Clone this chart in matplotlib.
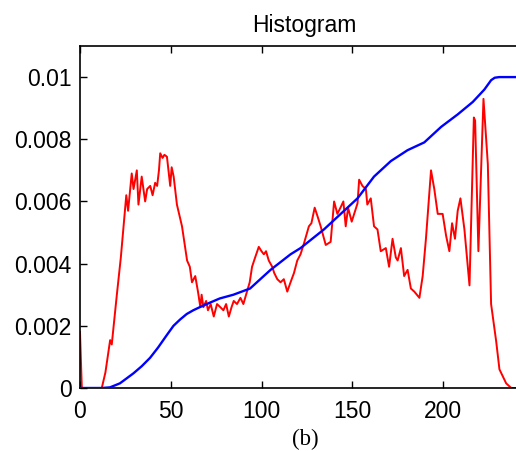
import matplotlib
matplotlib.use("Agg")
import matplotlib.pyplot as plt
from matplotlib.ticker import FuncFormatter

# red histogram
hist_x = [0, 1, 12, 14, 16.6, 17.5, 20.3, 22.5, 24.9, 25.5, 26.5, 28.5, 29.5, 31.3, 32.2,
          34, 35.9, 37, 38.7, 40, 41.4, 42.5, 43.5, 44.2, 45.5, 46.5, 47.9, 49.7, 50.5,
          51.6, 53.4, 56.2, 59, 60.5, 61.7, 63.5, 65, 66.3, 67, 68, 69.5, 70.5, 72, 73.7,
          75.5, 77.3, 79, 80.5, 82, 83.5, 84.7, 86.5, 88.4, 90, 92, 93.5, 94.8, 96.5,
          98.5, 100, 101.3, 102.5, 104, 105.9, 107, 108.7, 110.5, 112.3, 114.2, 116,
          117.9, 119.7, 121.5, 123.4, 126.1, 127.5, 129.3, 131, 132.6, 135.4, 138.1,
          140, 141.8, 143.5, 145.1, 146.4, 147.7, 149.7, 152.9, 153.8, 155.6, 157.5,
          158.3, 160.2, 162, 163.9, 165.7, 168.5, 170.3, 172.2, 174, 175, 176.8, 178.6,
          180.5, 182.3, 184.2, 187, 188.8, 190.6, 193.4, 195.2, 197.1, 199.8, 201.7,
          203.5, 205, 206.6, 208.1, 209.6, 211.8, 214.6, 217, 217.7, 219.5, 222.3,
          224.7, 226.5, 229.3, 231.1, 234.8, 237.6, 264]
hist_y = [0.0018, 0, 0, 0.0005, 0.00154, 0.0014, 0.003, 0.0042, 0.0058, 0.0062, 0.0057,
          0.0069, 0.0064, 0.0070, 0.0059, 0.0068, 0.006, 0.0064, 0.0065, 0.0062, 0.0066,
          0.0065, 0.007, 0.00755, 0.0074, 0.0075, 0.00744, 0.0065, 0.0071, 0.0068,
          0.0059, 0.0052, 0.0041, 0.0039, 0.0034, 0.0036, 0.0031, 0.0026, 0.003, 0.0026,
          0.0028, 0.0025, 0.0027, 0.0023, 0.0027, 0.0026, 0.0025, 0.0027, 0.0023,
          0.0026, 0.0028, 0.0027, 0.0029, 0.0027, 0.0031, 0.0034, 0.0039, 0.0042,
          0.00454, 0.0044, 0.0043, 0.0044, 0.0041, 0.0039, 0.0037, 0.0035, 0.0034,
          0.0035, 0.0031, 0.0034, 0.0037, 0.0041, 0.0043, 0.00465, 0.0052, 0.0053,
          0.0058, 0.0055, 0.0052, 0.0046, 0.0047, 0.006, 0.0056, 0.0058, 0.006, 0.0052,
          0.0058, 0.00535, 0.00594, 0.0067, 0.0065, 0.0064, 0.0059, 0.0061, 0.0052,
          0.0051, 0.0044, 0.0045, 0.0039, 0.0048, 0.0042, 0.0041, 0.0045, 0.0036,
          0.0038, 0.0032, 0.0031, 0.0029, 0.0036, 0.0048, 0.0070, 0.0064, 0.0056,
          0.0056, 0.0049, 0.0044, 0.0053, 0.0048, 0.0057, 0.0061, 0.0051, 0.0033,
          0.0087, 0.0086, 0.0044, 0.0093, 0.0072, 0.0027, 0.0015, 0.0006, 0.00015, 0, 0]

# blue cumulative curve (scaled to 0.01)
cdf_x = [0, 12, 16.5, 22, 29.4, 34, 38.6, 43, 47.8, 51.5, 55.1, 58.8, 62.4, 66, 69.8,
         77, 84.5, 93.7, 105, 116, 121.5, 134.4, 152.9, 162, 171.3, 180.5, 189.7, 199,
         208.1, 216.4, 222.8, 226.5, 228.5, 231, 264]
cdf_y = [0, 0, 0.00002, 0.00015, 0.00047, 0.0007, 0.00097, 0.0013, 0.0017, 0.002,
         0.0022, 0.00238, 0.0025, 0.0026, 0.0027, 0.00288, 0.003, 0.0032, 0.0038,
         0.0043, 0.0045, 0.0051, 0.0061, 0.0068, 0.0073, 0.00765, 0.0079, 0.0084,
         0.0088, 0.0092, 0.0096, 0.0099, 0.00998, 0.01, 0.01]

x_ticks = [0, 50, 100, 150, 200]
y_ticks = [0, 0.002, 0.004, 0.006, 0.008, 0.01]

plt.rcParams['font.family'] = ['Liberation Sans', 'DejaVu Sans']

fig = plt.figure(figsize=(5.16, 4.51), dpi=100)
# axes runs a bit past the right edge of the picture, like the cropped original
ax = fig.add_axes([80 / 516, 63 / 451, 448 / 516, 342 / 451])

ax.plot(hist_x, hist_y, color="#ff0000", linewidth=1.4, zorder=2)
ax.plot(cdf_x, cdf_y, color="#0000ff", linewidth=1.7, zorder=3)

ax.set_xlim(0, 448 / 1.815)
ax.set_ylim(0, 0.011)
ax.set_xticks(x_ticks)
ax.set_yticks(y_ticks)
ax.yaxis.set_major_formatter(FuncFormatter(lambda v, p: "%g" % v))
ax.tick_params(direction="in", length=5, width=1, labelsize=16.5, pad=6,
               top=True, right=True)
ax.tick_params(axis="x", pad=9)
for s in ax.spines.values():
    s.set_linewidth(1.2)

ax.set_title("Histogram", fontsize=16.5, pad=10)
fig.text(305 / 516, 1 - 439 / 451, "(b)", fontsize=16.5, ha="center", va="center",
         family=["Liberation Serif", "DejaVu Serif"])

fig.savefig("out.png", dpi=100)
plt.close()
